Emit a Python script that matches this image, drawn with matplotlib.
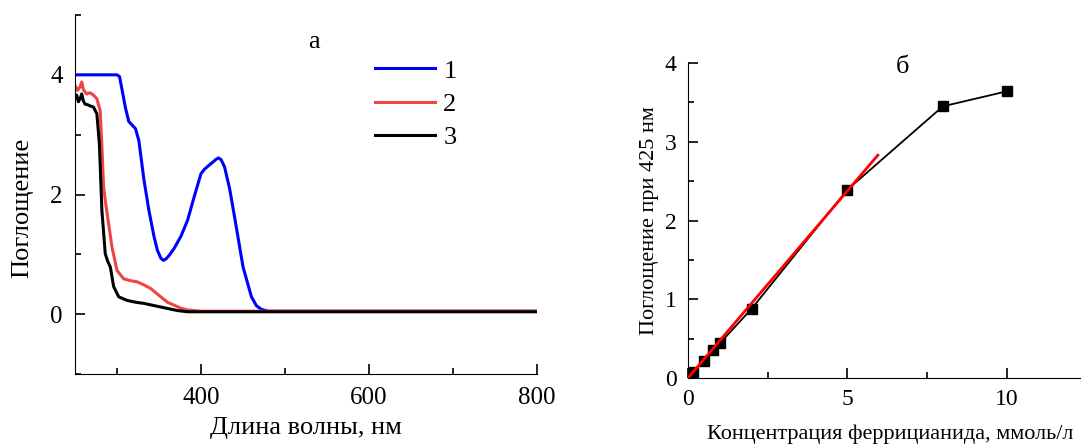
import matplotlib
matplotlib.use("Agg")
import matplotlib.pyplot as plt
from matplotlib.ticker import MultipleLocator

plt.rcParams['font.family'] = ['Liberation Serif', 'DejaVu Serif']

# spectra
wl_1 = [250, 300, 303, 306, 310, 314, 318, 322, 326, 332, 338, 344, 348, 352, 355, 358, 362, 368, 376,
        384, 392, 400, 404, 408, 414, 418, 421, 424, 428, 434, 440, 450, 460, 466, 472, 480, 500, 600, 700, 800]
ab_1 = [4.0, 4.0, 3.97, 3.75, 3.45, 3.22, 3.16, 3.1, 2.9, 2.25, 1.73, 1.3, 1.07, 0.94, 0.9, 0.92, 0.98,
        1.1, 1.3, 1.57, 1.97, 2.35, 2.42, 2.47, 2.54, 2.59, 2.61, 2.58, 2.46, 2.1, 1.62, 0.79, 0.29, 0.14,
        0.08, 0.05, 0.05, 0.05, 0.05, 0.05]

wl_2 = [250, 253, 256, 258, 260, 264, 268, 272, 276, 280, 282, 284, 287, 290, 294, 300,
        308, 316, 324, 332, 340, 352, 360, 368, 376, 384, 400, 500, 600, 700, 800]
ab_2 = [3.82, 3.74, 3.8, 3.88, 3.75, 3.68, 3.7, 3.66, 3.6, 3.4, 2.8, 2.12, 1.8, 1.51, 1.12, 0.73,
        0.59, 0.56, 0.54, 0.49, 0.43, 0.29, 0.2, 0.15, 0.1, 0.07, 0.05, 0.05, 0.05, 0.05, 0.05]

wl_3 = [250, 252, 254, 256, 258, 260, 262, 265, 268, 272, 276, 279, 282, 286, 289, 292,
        296, 302, 312, 322, 332, 342, 352, 362, 372, 384, 400, 500, 600, 700, 800]
ab_3 = [3.62, 3.66, 3.55, 3.6, 3.68, 3.56, 3.51, 3.5, 3.48, 3.46, 3.35, 2.85, 1.73, 1.01, 0.88, 0.79,
        0.46, 0.29, 0.23, 0.2, 0.18, 0.15, 0.12, 0.09, 0.06, 0.04, 0.04, 0.04, 0.04, 0.04, 0.04]

# calibration at 425 nm
conc = [0.15, 0.5, 0.8, 1.0, 2.0, 5.0, 8.0, 10.0]
absb = [0.07, 0.22, 0.35, 0.44, 0.88, 2.39, 3.45, 3.64]
fit_x = [0.0, 5.96]
fit_y = [0.0, 2.83]

fig = plt.figure(figsize=(10.81, 4.46), dpi=100)

# ---- panel a
ax1 = fig.add_axes([0.0694, 0.1614, 0.4274, 0.805])
ax1.plot(wl_1, ab_1, color='#0000ff', lw=2.2, label='1')
ax1.plot(wl_2, ab_2, color='#ee4444', lw=2.2, label='2')
ax1.plot(wl_3, ab_3, color='black', lw=2.2, label='3')
ax1.set_xlim(250, 800)
ax1.set_ylim(-1, 5)
ax1.xaxis.set_major_locator(MultipleLocator(200))
ax1.xaxis.set_minor_locator(MultipleLocator(100))
ax1.yaxis.set_major_locator(MultipleLocator(2))
ax1.yaxis.set_minor_locator(MultipleLocator(1))
ax1.spines['top'].set_visible(False)
ax1.spines['right'].set_visible(False)
ax1.tick_params(which='both', direction='in', labelsize=18, width=1.2)
ax1.tick_params(which='major', length=7)
ax1.tick_params(which='minor', length=4)
ax1.tick_params(axis='x', pad=9)
ax1.tick_params(axis='y', pad=9)
ax1.set_xlabel('Длина волны, нм', fontsize=19)
ax1.set_ylabel('Поглощение', fontsize=19)
ax1.xaxis.set_label_coords(0.5, -0.12)
ax1.yaxis.set_label_coords(-0.09, 0.462)
ax1.text(0.517, 0.925, 'а', transform=ax1.transAxes, fontsize=19, ha='center', va='center')
ax1.legend(loc='upper left', bbox_to_anchor=(0.62, 0.914), frameon=False, fontsize=19,
           handlelength=2.3, handletextpad=0.3, labelspacing=0.37, borderpad=0)

# ---- panel б
ax2 = fig.add_axes([0.6364, 0.1525, 0.3626, 0.7062])
ax2.plot(conc, absb, color='black', lw=1.3, marker='s', ms=7, zorder=2)
ax2.plot(fit_x, fit_y, color='#ff0000', lw=2, zorder=3)
ax2.set_xlim(0, 12.3)
ax2.set_ylim(0, 4)
ax2.xaxis.set_major_locator(MultipleLocator(5))
ax2.xaxis.set_minor_locator(MultipleLocator(2.5))
ax2.yaxis.set_major_locator(MultipleLocator(1))
ax2.yaxis.set_minor_locator(MultipleLocator(0.5))
ax2.spines['top'].set_visible(False)
ax2.spines['right'].set_visible(False)
ax2.tick_params(which='both', direction='in', labelsize=17, width=1.2)
ax2.tick_params(which='major', length=7)
ax2.tick_params(which='minor', length=4)
ax2.tick_params(axis='x', pad=8)
ax2.tick_params(axis='y', pad=8)
ax2.set_xlabel('Концентрация феррицианида, ммоль/л', fontsize=16)
ax2.set_ylabel('Поглощение при 425 нм', fontsize=16)
ax2.xaxis.set_label_coords(0.515, -0.148)
ax2.yaxis.set_label_coords(-0.075, 0.5)
ax2.text(6.74, 3.95, 'б', fontsize=19, ha='center', va='center')

fig.savefig('out.png', dpi=100)
